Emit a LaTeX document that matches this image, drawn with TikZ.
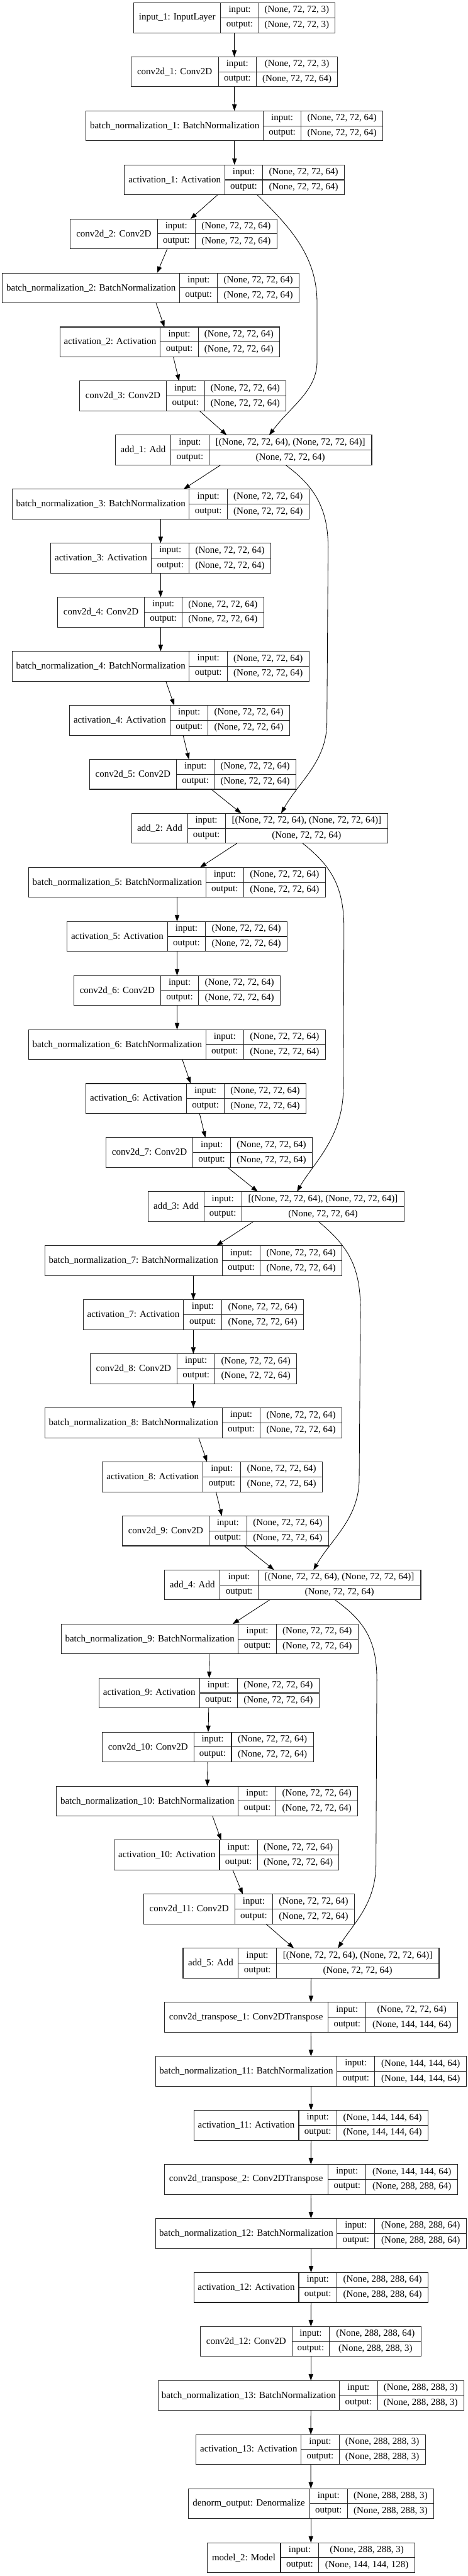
\documentclass[tikz,border=0pt]{standalone}
\usepackage{fontspec}
\setmainfont{Liberation Serif}
\usetikzlibrary{arrows.meta}
\tikzset{
  box/.style={draw=black!85, line width=1pt, rectangle, inner sep=0pt, outer sep=0pt},
  cell/.style={draw=black!85, line width=1pt},
  txt/.style={inner sep=0pt, font=\fontsize{14.5pt}{17pt}\selectfont, text=black},
  conn/.style={-{Triangle[length=10pt,width=7pt]}, line width=0.8pt, black},
}
% #1 index, #2 left, #3 divider A, #4 divider B, #5 right, #6 label, #7 input, #8 output
\newcommand\layer[8]{%
  \pgfmathsetmacro\yt{5.7+110.66*#1}%
  \node[box, minimum width={(#5-#2)*0.45925pt}, minimum height=45.975pt] (L#1) at ({(#2+#5)/2},{\yt+30.65}) {};
  \draw[cell] (#3,\yt) -- (#3,\yt+61.3) (#4,\yt) -- (#4,\yt+61.3) (#3,\yt+30.65) -- (#5,\yt+30.65);
  \node[txt] (L#1-lab) at ({(#2+#3)/2},{\yt+30.65}) {#6};
  \node[txt] (L#1-in) at ({(#3+#4)/2},{\yt+15.3}) {input:};
  \node[txt] (L#1-out) at ({(#3+#4)/2},{\yt+46}) {output:};
  \node[txt] (L#1-iv) at ({(#4+#5)/2},{\yt+15.3}) {#7};
  \node[txt] (L#1-ov) at ({(#4+#5)/2},{\yt+46}) {#8};
}
\begin{document}
\begin{tikzpicture}[x={(0.45925pt,0)}, y={(0,-0.75pt)}]
\fill[white] (0,0) rectangle (1563,5275);
\useasboundingbox (0,0) rectangle (1563,5275);
\layer{0}{447}{738}{865}{1120}{input\_1: InputLayer}{(None, 72, 72, 3)}{(None, 72, 72, 3)}
\layer{1}{438}{730}{857}{1129}{conv2d\_1: Conv2D}{(None, 72, 72, 3)}{(None, 72, 72, 64)}
\layer{2}{288}{880}{1007}{1280}{batch\_normalization\_1: BatchNormalization}{(None, 72, 72, 64)}{(None, 72, 72, 64)}
\layer{3}{416}{752}{878}{1152}{activation\_1: Activation}{(None, 72, 72, 64)}{(None, 72, 72, 64)}
\layer{4}{235}{526}{653}{926}{conv2d\_2: Conv2D}{(None, 72, 72, 64)}{(None, 72, 72, 64)}
\layer{5}{8}{601}{727}{1000}{batch\_normalization\_2: BatchNormalization}{(None, 72, 72, 64)}{(None, 72, 72, 64)}
\layer{6}{200}{536}{663}{935}{activation\_2: Activation}{(None, 72, 72, 64)}{(None, 72, 72, 64)}
\layer{7}{266}{556}{684}{956}{conv2d\_3: Conv2D}{(None, 72, 72, 64)}{(None, 72, 72, 64)}
\layer{8}{386}{571}{699}{1243}{add\_1: Add}{[(None, 72, 72, 64), (None, 72, 72, 64)]}{(None, 72, 72, 64)}
\layer{9}{41}{633}{760}{1033}{batch\_normalization\_3: BatchNormalization}{(None, 72, 72, 64)}{(None, 72, 72, 64)}
\layer{10}{169}{506}{633}{905}{activation\_3: Activation}{(None, 72, 72, 64)}{(None, 72, 72, 64)}
\layer{11}{192}{483}{609}{882}{conv2d\_4: Conv2D}{(None, 72, 72, 64)}{(None, 72, 72, 64)}
\layer{12}{41}{633}{760}{1033}{batch\_normalization\_4: BatchNormalization}{(None, 72, 72, 64)}{(None, 72, 72, 64)}
\layer{13}{232}{569}{696}{968}{activation\_4: Activation}{(None, 72, 72, 64)}{(None, 72, 72, 64)}
\layer{14}{299}{590}{717}{989}{conv2d\_5: Conv2D}{(None, 72, 72, 64)}{(None, 72, 72, 64)}
\layer{15}{441}{627}{753}{1297}{add\_2: Add}{[(None, 72, 72, 64), (None, 72, 72, 64)]}{(None, 72, 72, 64)}
\layer{16}{96}{688}{815}{1088}{batch\_normalization\_5: BatchNormalization}{(None, 72, 72, 64)}{(None, 72, 72, 64)}
\layer{17}{224}{560}{687}{960}{activation\_5: Activation}{(None, 72, 72, 64)}{(None, 72, 72, 64)}
\layer{18}{247}{537}{664}{937}{conv2d\_6: Conv2D}{(None, 72, 72, 64)}{(None, 72, 72, 64)}
\layer{19}{96}{688}{815}{1088}{batch\_normalization\_6: BatchNormalization}{(None, 72, 72, 64)}{(None, 72, 72, 64)}
\layer{20}{287}{624}{750}{1023}{activation\_6: Activation}{(None, 72, 72, 64)}{(None, 72, 72, 64)}
\layer{21}{354}{645}{771}{1044}{conv2d\_7: Conv2D}{(None, 72, 72, 64)}{(None, 72, 72, 64)}
\layer{22}{496}{682}{808}{1352}{add\_3: Add}{[(None, 72, 72, 64), (None, 72, 72, 64)]}{(None, 72, 72, 64)}
\layer{23}{150}{743}{870}{1143}{batch\_normalization\_7: BatchNormalization}{(None, 72, 72, 64)}{(None, 72, 72, 64)}
\layer{24}{278}{614}{742}{1015}{activation\_7: Activation}{(None, 72, 72, 64)}{(None, 72, 72, 64)}
\layer{25}{301}{592}{719}{992}{conv2d\_8: Conv2D}{(None, 72, 72, 64)}{(None, 72, 72, 64)}
\layer{26}{150}{743}{870}{1143}{batch\_normalization\_8: BatchNormalization}{(None, 72, 72, 64)}{(None, 72, 72, 64)}
\layer{27}{342}{679}{805}{1078}{activation\_8: Activation}{(None, 72, 72, 64)}{(None, 72, 72, 64)}
\layer{28}{409}{699}{825}{1099}{conv2d\_9: Conv2D}{(None, 72, 72, 64)}{(None, 72, 72, 64)}
\layer{29}{550}{736}{863}{1407}{add\_4: Add}{[(None, 72, 72, 64), (None, 72, 72, 64)]}{(None, 72, 72, 64)}
\layer{30}{205}{797}{924}{1197}{batch\_normalization\_9: BatchNormalization}{(None, 72, 72, 64)}{(None, 72, 72, 64)}
\layer{31}{331}{667}{794}{1067}{activation\_9: Activation}{(None, 72, 72, 64)}{(None, 72, 72, 64)}
\layer{32}{342}{648}{774}{1048}{conv2d\_10: Conv2D}{(None, 72, 72, 64)}{(None, 72, 72, 64)}
\layer{33}{189}{797}{923}{1196}{batch\_normalization\_10: BatchNormalization}{(None, 72, 72, 64)}{(None, 72, 72, 64)}
\layer{34}{382}{734}{861}{1133}{activation\_10: Activation}{(None, 72, 72, 64)}{(None, 72, 72, 64)}
\layer{35}{480}{785}{912}{1185}{conv2d\_11: Conv2D}{(None, 72, 72, 64)}{(None, 72, 72, 64)}
\layer{36}{612}{797}{924}{1468}{add\_5: Add}{[(None, 72, 72, 64), (None, 72, 72, 64)]}{(None, 72, 72, 64)}
\layer{37}{549}{1097}{1224}{1530}{conv2d\_transpose\_1: Conv2DTranspose}{(None, 72, 72, 64)}{(None, 144, 144, 64)}
\layer{38}{520}{1127}{1253}{1560}{batch\_normalization\_11: BatchNormalization}{(None, 144, 144, 64)}{(None, 144, 144, 64)}
\layer{39}{648}{999}{1126}{1432}{activation\_11: Activation}{(None, 144, 144, 64)}{(None, 144, 144, 64)}
\layer{40}{549}{1097}{1224}{1530}{conv2d\_transpose\_2: Conv2DTranspose}{(None, 144, 144, 64)}{(None, 288, 288, 64)}
\layer{41}{520}{1127}{1253}{1560}{batch\_normalization\_12: BatchNormalization}{(None, 288, 288, 64)}{(None, 288, 288, 64)}
\layer{42}{648}{999}{1126}{1432}{activation\_12: Activation}{(None, 288, 288, 64)}{(None, 288, 288, 64)}
\layer{43}{670}{976}{1102}{1409}{conv2d\_12: Conv2D}{(None, 288, 288, 64)}{(None, 288, 288, 3)}
\layer{44}{528}{1135}{1262}{1551}{batch\_normalization\_13: BatchNormalization}{(None, 288, 288, 3)}{(None, 288, 288, 3)}
\layer{45}{656}{1007}{1134}{1422}{activation\_13: Activation}{(None, 288, 288, 3)}{(None, 288, 288, 3)}
\layer{46}{629}{1035}{1162}{1450}{denorm\_output: Denormalize}{(None, 288, 288, 3)}{(None, 288, 288, 3)}
\layer{47}{692}{938}{1066}{1387}{model\_2: Model}{(None, 288, 288, 3)}{(None, 144, 144, 128)}
% main chain
\foreach \i [evaluate=\i as \j using int(\i+1)] in {0,...,46} {\draw[conn] (L\i) -- (L\j);}
% skip connections
\coordinate (sA) at (860,399.0);   \coordinate (eA) at (900,891.0);
\coordinate (sB) at (955,952.3);   \coordinate (eB) at (940,1665.6);
\coordinate (sC) at (1012,1726.9); \coordinate (eC) at (993,2440.2);
\coordinate (sD) at (1065,2501.5); \coordinate (eD) at (1048,3214.8);
\coordinate (sE) at (1120,3276.1); \coordinate (eE) at (1130,3989.5);
\draw[conn] (sA) .. controls (960,460) and (1060,520) .. (1060,620) -- (1060,740) .. controls (1060,800) and (975,830) .. (eA);
\draw[conn] (sB) .. controls (1050,995) and (1097,1040) .. (1097,1120) -- (1093,1480) .. controls (1092,1560) and (1000,1600) .. (eB);
\draw[conn] (sC) .. controls (1100,1770) and (1150,1810) .. (1150,1900) -- (1148,2230) .. controls (1146,2330) and (1050,2380) .. (eC);
\draw[conn] (sD) .. controls (1160,2550) and (1205,2590) .. (1205,2680) -- (1201,3030) .. controls (1199,3110) and (1110,3150) .. (eD);
\draw[conn] (sE) .. controls (1220,3320) and (1260,3360) .. (1260,3440) -- (1257,3820) .. controls (1255,3900) and (1180,3940) .. (eE);
\end{tikzpicture}
\end{document}
